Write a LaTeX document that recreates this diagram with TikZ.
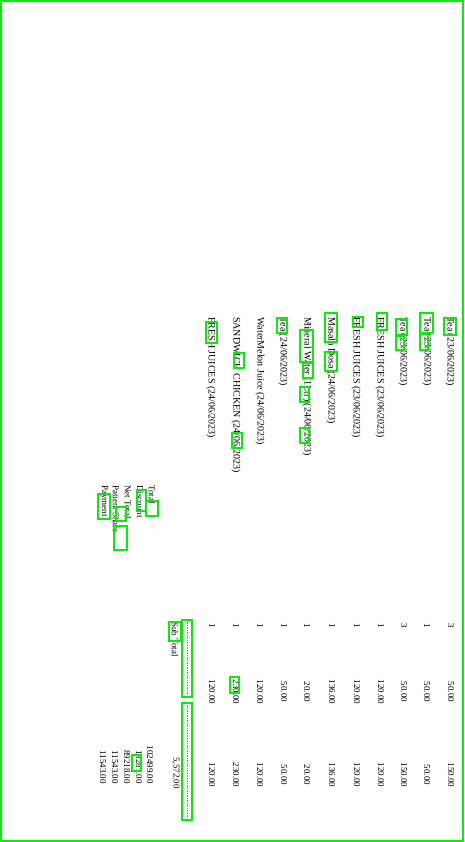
\documentclass[tikz,border=0pt]{standalone}
\usepackage{fontspec}
\setmainfont{Liberation Serif}
\definecolor{ocrgreen}{RGB}{10,235,10}
\begin{document}
\begin{tikzpicture}[x=1pt,y=-1pt]
	\tikzset{
	item/.style={rotate=-90, anchor=west, inner sep=0pt, text=black, font=\fontsize{10}{12}\selectfont},
	num/.style={rotate=-90, inner sep=0pt, text=black, font=\fontsize{9}{11}\selectfont},
	ocr/.style={draw=ocrgreen, line width=1.6pt},
	rule/.style={gray, line width=0.6pt, dash pattern=on 1.5pt off 1pt}}

	\def\ys{317};
	\def\qy{623};
	\def\py{692};
	\def\ty{775};

	\useasboundingbox (0,0) rectangle (464,842);
	\draw[ocr] (1,1) rectangle (463,841);

	%items
	\node[item] (it1) at (450,\ys) {Tea (23/06/2023)};
	\node[item] (it2) at (427,\ys) {Tea (23/06/2023)};
	\node[item] (it3) at (403,\ys) {Tea (23/06/2023)};
	\node[item] (it4) at (380,\ys) {FRESH JUICES (23/06/2023)};
	\node[item] (it5) at (356,\ys) {FRESH JUICES (23/06/2023)};
	\node[item] (it6) at (331,\ys) {Masala Dosa (24/06/2023)};
	\node[item] (it7) at (307,\ys) {Mineral Water (1Ltr) (24/06/2023)};
	\node[item] (it8) at (283,\ys) {Tea (24/06/2023)};
	\node[item] (it9) at (260,\ys) {WaterMelon Juice (24/06/2023)};
	\node[item] (it10) at (236,\ys) {SANDWICH CHICKEN (24/06/2023)};
	\node[item] (it11) at (211,\ys) {FRESH JUICES (24/06/2023)};

	%quantities
	\node[num, anchor=west] (q1) at (451,\qy) {3};
	\node[num, anchor=west] (q2) at (427,\qy) {1};
	\node[num, anchor=west] (q3) at (404,\qy) {3};
	\node[num, anchor=west] (q4) at (381,\qy) {1};
	\node[num, anchor=west] (q5) at (357,\qy) {1};
	\node[num, anchor=west] (q6) at (332,\qy) {1};
	\node[num, anchor=west] (q7) at (307,\qy) {1};
	\node[num, anchor=west] (q8) at (284,\qy) {1};
	\node[num, anchor=west] (q9) at (260,\qy) {1};
	\node[num, anchor=west] (q10) at (236,\qy) {1};
	\node[num, anchor=west] (q11) at (212,\qy) {1};

	%prices
	\node[num] (p1) at (451,\py) {50.00};
	\node[num] (p2) at (427,\py) {50.00};
	\node[num] (p3) at (404,\py) {50.00};
	\node[num] (p4) at (381,\py) {120.00};
	\node[num] (p5) at (357,\py) {120.00};
	\node[num] (p6) at (332,\py) {136.00};
	\node[num] (p7) at (307,\py) {20.00};
	\node[num] (p8) at (284,\py) {50.00};
	\node[num] (p9) at (260,\py) {120.00};
	\node[num] (p10) at (236,\py) {230.00};
	\node[num] (p11) at (212,\py) {120.00};

	%totals
	\node[num] (t1) at (451,\ty) {150.00};
	\node[num] (t2) at (427,\ty) {50.00};
	\node[num] (t3) at (404,\ty) {150.00};
	\node[num] (t4) at (381,\ty) {120.00};
	\node[num] (t5) at (357,\ty) {120.00};
	\node[num] (t6) at (332,\ty) {136.00};
	\node[num] (t7) at (307,\ty) {20.00};
	\node[num] (t8) at (284,\ty) {50.00};
	\node[num] (t9) at (260,\ty) {120.00};
	\node[num] (t10) at (236,\ty) {230.00};
	\node[num] (t11) at (212,\ty) {120.00};

	%sub total
	\draw[rule] (187,622) -- (187,694);
	\draw[rule] (187,705) -- (187,817);
	\node[num, anchor=west] (sub) at (175,622) {Sub Total};
	\node[num, anchor=east] (subval) at (176,789) {5,572.00};

	%summary
	\node[num, anchor=west] (tot) at (152,485) {Total};
	\node[num, anchor=west] (disc) at (140,485) {Discount};
	\node[num, anchor=west] (net) at (128,485) {Net Total};
	\node[num, anchor=west] (share) at (116,485) {Patient Share};
	\node[num, anchor=west] (pay) at (104,485) {Payment};

	\node[num, anchor=east] (totval) at (150,784) {102499.00};
	\node[num, anchor=east] (discval) at (139,784) {13281.00};
	\node[num, anchor=east] (netval) at (127,784) {89218.00};
	\node[num, anchor=east] (shareval) at (115,784) {11543.00};
	\node[num, anchor=east] (payval) at (103,784) {11543.00};

	%ocr boxes
	\draw[ocr] (444,318) rectangle (456,335);
	\draw[ocr] (420,313) rectangle (433,333);
	\draw[ocr] (420,334) rectangle (428,350);
	\draw[ocr] (396,319) rectangle (407,335);
	\draw[ocr] (396,336) rectangle (404,350);
	\draw[ocr] (377,313) rectangle (387,330);
	\draw[ocr] (353,317) rectangle (363,327);
	\draw[ocr] (325,313) rectangle (337,342);
	\draw[ocr] (325,352) rectangle (337,371);
	\draw[ocr] (300,330) rectangle (313,362);
	\draw[ocr] (303,363) rectangle (313,378);
	\draw[ocr] (300,387) rectangle (309,402);
	\draw[ocr] (300,428) rectangle (309,443);
	\draw[ocr] (277,318) rectangle (287,333);
	\draw[ocr] (234,353) rectangle (244,368);
	\draw[ocr] (232,433) rectangle (242,448);
	\draw[ocr] (206,322) rectangle (217,343);

	\draw[ocr] (146,501) rectangle (158,516);
	\draw[ocr] (137,490) rectangle (146,511);
	\draw[ocr] (116,507) rectangle (126,521);
	\draw[ocr] (114,526) rectangle (127,550);
	\draw[ocr] (98,494) rectangle (110,519);
	\draw[ocr] (132,755) rectangle (141,771);

	\draw[ocr] (169,622) rectangle (181,641);
	\draw[ocr] (230,677) rectangle (239,693);
	\draw[ocr] (182,620) rectangle (192,697);
	\draw[ocr] (182,703) rectangle (192,820);

\end{tikzpicture}
\end{document}
